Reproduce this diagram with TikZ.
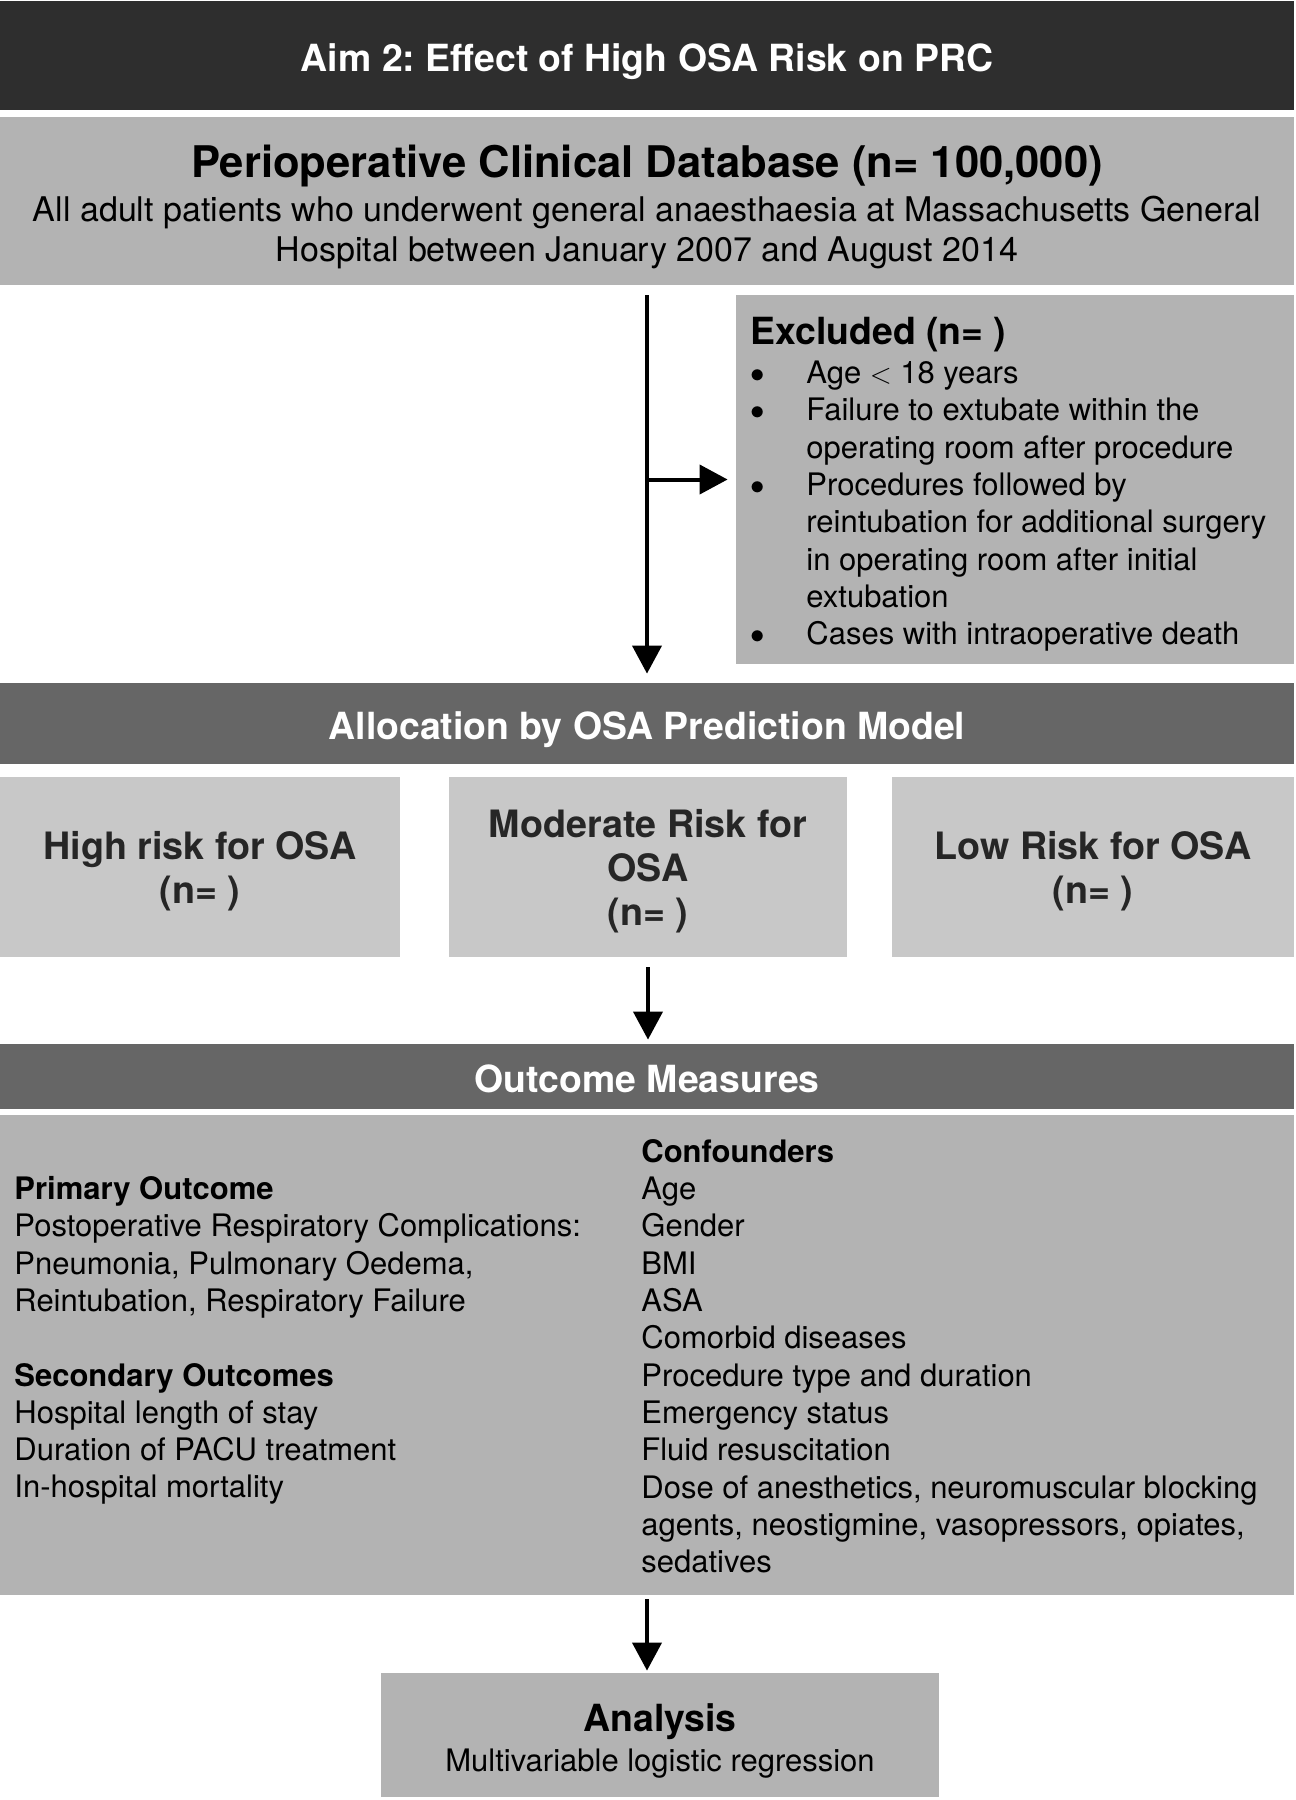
\documentclass[tikz,border=0pt]{standalone}
\usepackage{fontspec}
\setmainfont{TeX Gyre Heros}
\usepackage{xcolor}
\usetikzlibrary{arrows.meta, positioning}
\frenchspacing

\definecolor{aimgrey}{HTML}{2E2E2E}
\definecolor{bargrey}{HTML}{666666}
\definecolor{boxgrey}{HTML}{B3B3B3}
\definecolor{riskgrey}{HTML}{C8C8C8}

\newcommand{\bodyfont}{\fontsize{15.5}{18.65}\selectfont}
\newcommand{\headfont}{\fontsize{18.7}{22}\selectfont\bfseries}
\newcommand{\exitem}[1]{\makebox[28pt][l]{\raisebox{0.6pt}{$\bullet$}}#1}
\newcommand{\excont}[1]{\hspace*{28pt}#1}

\begin{document}
\begin{tikzpicture}[
    x=0.5pt, y=-0.5pt,
    bar/.style={rectangle, inner sep=0pt, minimum width=647pt, text=white, font=\headfont, text height=16pt, text depth=0pt},
    greybox/.style={rectangle, inner sep=0pt, fill=boxgrey},
    riskbox/.style={rectangle, inner sep=0pt, fill=riskgrey, minimum height=90pt},
    risktext/.style={inner sep=0pt, align=center, text=black!85, font=\fontsize{18.85}{22}\selectfont\bfseries},
    flow/.style={-{Triangle[width=14.5pt, length=14pt]}, line width=2pt, black}
]

    % Pagina bianca con le proporzioni del riferimento
    \path[use as bounding box, fill=white] (0,0) rectangle (1296,1800);

    % Intestazione e database
    \node[bar, fill=aimgrey, minimum height=54.5pt] (aim) at (647,55.5) {Aim 2: Effect of High OSA Risk on PRC};
    \node[greybox, minimum width=647pt, minimum height=84pt] (db) at (647,201) {};
    \node[inner sep=0pt, align=center, font=\fontsize{17}{20}\selectfont] (dbtext) at (647,207)
        {{\fontsize{21.8}{24}\selectfont\bfseries Perioperative Clinical Database (n= 100,000)}\\[1.75pt]
         All adult patients who underwent general anaesthaesia at Massachusetts General\\
         Hospital between January 2007 and August 2014};

    % Esclusi
    \node[greybox, minimum width=279pt, minimum height=184.5pt] (excl) at (1015,479.5) {};
    \node[anchor=north west, inner sep=0pt, align=left, font=\bodyfont] (excltext) at (750,317)
        {{\headfont Excluded (n= )}\\[0.85pt]
         \exitem{Age $<$ 18 years}\\
         \exitem{Failure to extubate within the}\\
         \excont{operating room after procedure}\\
         \exitem{Procedures followed by}\\
         \excont{reintubation for additional surgery}\\
         \excont{in operating room after initial}\\
         \excont{extubation}\\
         \exitem{Cases with intraoperative death}};

    % Allocazione
    \node[bar, fill=bargrey, minimum height=40.5pt] (alloc) at (647,723.5) {Allocation by OSA Prediction Model};
    \node[riskbox, minimum width=200pt] (high) at (200,867) {};
    \node[riskbox, minimum width=199pt] (mod) at (648,867) {};
    \node[riskbox, minimum width=201pt] (low) at (1093,867) {};
    \node[risktext] (hightext) at ([yshift=-2.3pt]high.center) {High risk for OSA\\(n= )};
    \node[risktext] (modtext) at ([yshift=-2pt]mod.center) {Moderate Risk for\\OSA\\(n= )};
    \node[risktext] (lowtext) at ([yshift=-2.3pt]low.center) {Low Risk for OSA\\(n= )};

    % Esiti
    \node[bar, fill=bargrey, minimum height=32.5pt] (outhead) at (647,1076.5) {Outcome Measures};
    \node[greybox, minimum width=647pt, minimum height=240pt] (outbody) at (647,1355) {};
    \node[anchor=north west, inner sep=0pt, align=left, font=\bodyfont] (primary) at (14,1176)
        {\textbf{Primary Outcome}\\
         Postoperative Respiratory Complications:\\
         Pneumonia, Pulmonary Oedema,\\
         Reintubation, Respiratory Failure\\[18.65pt]
         \textbf{Secondary Outcomes}\\
         Hospital length of stay\\
         Duration of PACU treatment\\
         In-hospital mortality};
    \node[anchor=north west, inner sep=0pt, align=left, font=\bodyfont] (confound) at (641,1139)
        {\textbf{Confounders}\\
         Age\\
         Gender\\
         BMI\\
         ASA\\
         Comorbid diseases\\
         Procedure type and duration\\
         Emergency status\\
         Fluid resuscitation\\
         Dose of anesthetics, neuromuscular blocking\\
         agents, neostigmine, vasopressors, opiates,\\
         sedatives};

    % Analisi
    \node[greybox, minimum width=279pt, minimum height=62pt] (ana) at (660,1735) {};
    \node[inner sep=0pt, align=center, font=\fontsize{15.5}{20}\selectfont] (anatext) at (660,1741)
        {{\headfont Analysis}\\ Multivariable logistic regression};

    % Frecce
    \coordinate (split) at (db.south |- excl.west);
    \draw[flow, shorten <=5pt, shorten >=4.5pt] (db.south) -- (db.south |- alloc.north);
    \draw[flow, shorten >=4pt] (split) -- (excl.west);
    \draw[flow, shorten <=5pt, shorten >=2pt] (mod.south) -- (mod.south |- outhead.north);
    \draw[flow, shorten <=2pt, shorten >=1pt] (outbody.south) -- (outbody.south |- ana.north);

\end{tikzpicture}
\end{document}
